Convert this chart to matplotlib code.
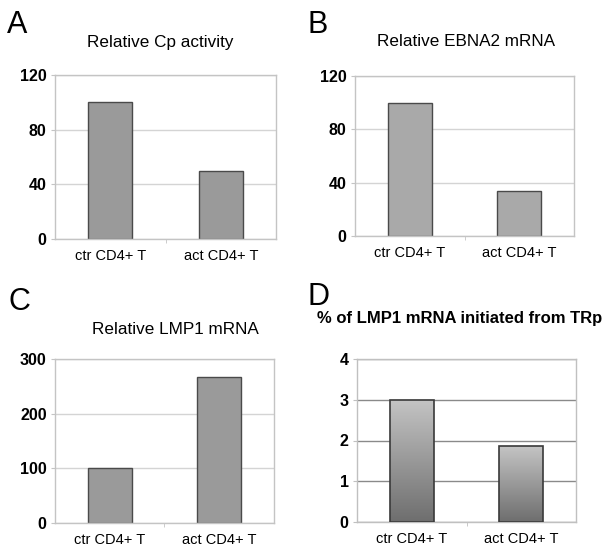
import numpy as np
import matplotlib
matplotlib.use("Agg")
import matplotlib.pyplot as plt

plt.rcParams['font.family'] = ['Liberation Sans', 'DejaVu Sans']

categories = ['ctr CD4+ T', 'act CD4+ T']

cp_activity = [100, 50]
ebna2_mrna = [100, 34]
lmp1_mrna = [100, 267]
lmp1_trp_pct = [3.0, 1.86]

fig = plt.figure(figsize=(6.11, 5.46), dpi=100)

W, H = 611, 546


def make_axes(left, right, top, bottom):
    return fig.add_axes([left / W, 1 - bottom / H, (right - left) / W, (bottom - top) / H])


def style_axes(ax, ymax, step, grid_color, frame_color):
    ax.set_xlim(-0.5, 1.5)
    ax.set_ylim(0, ymax)
    ax.set_yticks(np.arange(0, ymax + step / 2, step))
    ax.set_xticks([0, 1])
    ax.set_xticklabels(categories, fontsize=10.5)
    ax.set_xticks([0.5], minor=True)
    ax.tick_params(axis='x', which='major', length=0, pad=7)
    ax.tick_params(axis='x', which='minor', length=3, color=frame_color)
    ax.tick_params(axis='y', length=3, color=frame_color, pad=3)
    for lbl in ax.get_yticklabels():
        lbl.set_fontweight('bold')
        lbl.set_fontsize(11.5)
    ax.yaxis.grid(True, color=grid_color, linewidth=1)
    ax.set_axisbelow(True)
    for s in ax.spines.values():
        s.set_color(frame_color)
        s.set_linewidth(1)


x = np.arange(len(categories))

# A
axA = make_axes(55, 276, 75, 239)
axA.bar(x, cp_activity, width=0.4, color='#9a9a9a', edgecolor='#4a4a4a', linewidth=1)
style_axes(axA, 120, 40, '#d4d4d4', '#c4c4c4')

# B
axB = make_axes(355, 574, 76, 236)
axB.bar(x, ebna2_mrna, width=0.4, color='#a9a9a9', edgecolor='#4a4a4a', linewidth=1)
style_axes(axB, 120, 40, '#d4d4d4', '#c4c4c4')

# C
axC = make_axes(55, 274, 359, 523)
axC.bar(x, lmp1_mrna, width=0.4, color='#9a9a9a', edgecolor='#4a4a4a', linewidth=1)
style_axes(axC, 300, 100, '#d4d4d4', '#c4c4c4')

# D with gradient bars
axD = make_axes(357, 576, 359, 522)
bars = axD.bar(x, lmp1_trp_pct, width=0.4, color='none', edgecolor='#3a3a3a', linewidth=1.2, zorder=3)
style_axes(axD, 4, 1, '#8a8a8a', '#c0c0c0')
grad = np.linspace(0, 1, 256).reshape(-1, 1)
cmap = matplotlib.colors.LinearSegmentedColormap.from_list('g', ['#6e6e6e', '#c4c4c4'])
for b in bars:
    bx, by = b.get_x(), b.get_y()
    bw, bh = b.get_width(), b.get_height()
    im = axD.imshow(grad, extent=[bx, bx + bw, by, by + bh], origin='lower',
                    cmap=cmap, aspect='auto', zorder=2)
    im.set_clip_path(b)
axD.set_xlim(-0.5, 1.5)
axD.set_ylim(0, 4)

# titles
fig.text(160 / W, 1 - 42 / H, 'Relative Cp activity', ha='center', va='center', fontsize=12.3)
fig.text(466 / W, 1 - 42 / H, 'Relative EBNA2 mRNA', ha='center', va='center', fontsize=12.3)
fig.text(175 / W, 1 - 330 / H, 'Relative LMP1 mRNA', ha='center', va='center', fontsize=12.3)
fig.text(460 / W, 1 - 318 / H, '% of LMP1 mRNA initiated from TRp', ha='center', va='center',
         fontsize=12, fontweight='bold')

# panel letters
for letter, lx, ly in [('A', 7, 33), ('B', 307, 33), ('C', 8, 310), ('D', 308, 305)]:
    fig.text(lx / W, 1 - ly / H, letter, ha='left', va='baseline', fontsize=22)

fig.savefig('out.png', dpi=100)
